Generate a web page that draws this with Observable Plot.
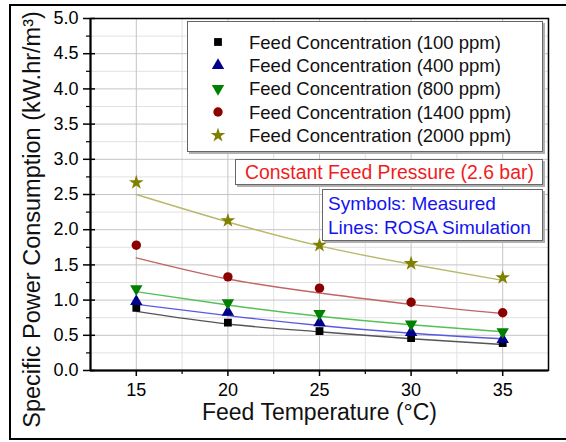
<!DOCTYPE html>
<html><head><meta charset="utf-8">
<script src="https://cdn.jsdelivr.net/npm/d3@7"></script>
<script src="https://cdn.jsdelivr.net/npm/@observablehq/plot@0.6"></script>
<style>
body{margin:0;background:#fff;font-family:"Liberation Sans",Arial,sans-serif;}
#wrap{position:relative;width:566px;height:442px;overflow:hidden;background:#fff;}
#border{position:absolute;left:9px;top:4px;width:620px;height:436px;border:2px solid #000;border-right:none;box-sizing:border-box;pointer-events:none;}
.box{position:absolute;background:#fff;border:1px solid #666;box-shadow:2px 2px 0 #b0b0b0;box-sizing:border-box;}
.box div{position:absolute;white-space:nowrap;line-height:1;}
</style>
</head><body>
<div id="wrap"><div id="border"></div></div>
<script>
// ---- data ----
const temps = [15, 20, 25, 30, 35];
const seriesNames = [
  "Feed Concentration (100 ppm)",
  "Feed Concentration (400 ppm)",
  "Feed Concentration (800 ppm)",
  "Feed Concentration (1400 ppm)",
  "Feed Concentration (2000 ppm)"
];
// measured (symbols)
const meas100  = [0.89, 0.68, 0.56, 0.46, 0.39];
const meas400  = [0.98, 0.83, 0.68, 0.54, 0.44];
const meas800  = [1.16, 0.96, 0.81, 0.66, 0.55];
const meas1400 = [1.78, 1.33, 1.17, 0.97, 0.82];
const meas2000 = [2.67, 2.13, 1.78, 1.52, 1.32];
// ROSA simulation (lines)
const sim100  = [0.84, 0.66, 0.55, 0.45, 0.37];
const sim400  = [0.94, 0.78, 0.64, 0.53, 0.45];
const sim800  = [1.12, 0.93, 0.77, 0.65, 0.55];
const sim1400 = [1.60, 1.30, 1.10, 0.94, 0.81];
const sim2000 = [2.50, 2.11, 1.77, 1.51, 1.28];

const xMajorTicks = [15, 20, 25, 30, 35];
const xMinorTicks = [17.5, 22.5, 27.5, 32.5];
const yMajorTicks = [0, 0.5, 1, 1.5, 2, 2.5, 3, 3.5, 4, 4.5, 5];
const yMinorTicks = [0.25, 0.75, 1.25, 1.75, 2.25, 2.75, 3.25, 3.75, 4.25, 4.75];

const xLabel = "Feed Temperature (°C)";
const yLabel = "Specific Power Consumption (kW.hr/m³)";
const noteRed = "Constant Feed Pressure (2.6 bar)";
const noteBlue1 = "Symbols: Measured";
const noteBlue2 = "Lines: ROSA Simulation";

// ---- styles ----
const measured = [meas100, meas400, meas800, meas1400, meas2000];
const simulated = [sim100, sim400, sim800, sim1400, sim2000];
const markerColors = ["#000000", "#00008b", "#008000", "#8b0000", "#808000"];
const lineColors = ["#555555", "#5a5ae0", "#55c055", "#c06464", "#b8b86a"];
const symbols = ["square", "triangle", "triangle", "circle", "star"];
const rotations = [0, 0, 180, 0, 0];
const radii = [4.4, 4.6, 4.6, 4.7, 4.6];

const marks = [];
marks.push(Plot.gridX(xMinorTicks, {stroke: "#e2e2e2", strokeOpacity: 1}));
marks.push(Plot.gridY(yMinorTicks, {stroke: "#e2e2e2", strokeOpacity: 1}));
marks.push(Plot.gridX(xMajorTicks, {stroke: "#c4c4c4", strokeOpacity: 1}));
marks.push(Plot.gridY(yMajorTicks, {stroke: "#c4c4c4", strokeOpacity: 1}));

simulated.forEach((s, i) => {
  marks.push(Plot.line(temps.map((t, j) => ({t, v: s[j]})), {
    x: "t", y: "v", stroke: lineColors[i], strokeWidth: 1.4, curve: "natural"
  }));
});
measured.forEach((m, i) => {
  marks.push(Plot.dot(temps.map((t, j) => ({t, v: m[j]})), {
    x: "t", y: "v", symbol: () => symbols[i], fill: markerColors[i], stroke: "none",
    r: radii[i], rotate: rotations[i]
  }));
});

marks.push(Plot.frame({stroke: "#000", strokeWidth: 1.5}));
marks.push(Plot.axisY({ticks: yMajorTicks, tickSize: 7, tickPadding: 5, fontSize: 18, tickFormat: d3.format(".1f"), label: null, strokeWidth: 1.5}));
marks.push(Plot.axisY({ticks: yMajorTicks, tickSize: -5, text: null, label: null, strokeWidth: 1.5}));
marks.push(Plot.axisY({ticks: yMinorTicks, tickSize: 4, text: null, label: null, strokeWidth: 1.2}));
marks.push(Plot.axisX({ticks: xMajorTicks, tickSize: 6, tickPadding: 7, fontSize: 18, label: null, strokeWidth: 1.5}));
marks.push(Plot.axisX({ticks: xMinorTicks, tickSize: 4, text: null, label: null, strokeWidth: 1.2}));
marks.push(Plot.ruleX([12.5], {stroke: "#000", strokeWidth: 2}));
marks.push(Plot.ruleY([0], {stroke: "#000", strokeWidth: 2}));
marks.push(Plot.text([xLabel], {text: d => d, frameAnchor: "bottom", lineAnchor: "middle", textAnchor: "middle", dy: 42, fontSize: 23, fill: "#111"}));
marks.push(Plot.text([yLabel], {text: d => d, frameAnchor: "left", lineAnchor: "middle", textAnchor: "middle", rotate: -90, dx: -58, dy: 25, fontSize: 23.5, fill: "#111"}));

const chart = Plot.plot({
  width: 566,
  height: 442,
  marginLeft: 90,
  marginRight: 18,
  marginTop: 18,
  marginBottom: 72,
  x: {domain: [12.5, 37.5]},
  y: {domain: [0, 5]},
  style: {fontFamily: "'Liberation Sans', Arial, sans-serif", color: "#000", background: "transparent"},
  marks
});
const wrap = document.getElementById("wrap");
chart.style.position = "absolute";
chart.style.left = "0px";
chart.style.top = "0px";
wrap.insertBefore(chart, wrap.firstChild);

// ---- legend box ----
const legend = d3.select(wrap).append("div").attr("class", "box")
  .style("left", "187px").style("top", "21px").style("width", "356px").style("height", "131px");
const lsvg = legend.append("svg").attr("width", 354).attr("height", 129)
  .style("position", "absolute").style("left", "0px").style("top", "0px");
const symMap = {square: d3.symbolSquare, triangle: d3.symbolTriangle, circle: d3.symbolCircle, star: d3.symbolStar};
const rowY = [20, 43.3, 66.6, 90, 113.3];
seriesNames.forEach((name, i) => {
  lsvg.append("path")
    .attr("d", d3.symbol(symMap[symbols[i]], Math.PI * radii[i] * radii[i])())
    .attr("transform", `translate(30,${rowY[i]}) rotate(${rotations[i]})`)
    .attr("fill", markerColors[i]);
  lsvg.append("text").attr("x", 61).attr("y", rowY[i]).attr("dy", "0.36em")
    .attr("font-size", 18.5).attr("fill", "#111")
    .attr("font-family", "'Liberation Sans', Arial, sans-serif")
    .text(name);
});

// ---- note boxes ----
const red = d3.select(wrap).append("div").attr("class", "box")
  .style("left", "235px").style("top", "159px").style("width", "308px").style("height", "26px");
red.append("div").style("left", "9px").style("top", "3px").style("font-size", "19.4px").style("color", "#f01c1c").text(noteRed);

const blue = d3.select(wrap).append("div").attr("class", "box")
  .style("left", "322px").style("top", "189px").style("width", "221px").style("height", "52px");
blue.append("div").style("left", "5px").style("top", "4px").style("font-size", "19px").style("color", "#1414f0").text(noteBlue1);
blue.append("div").style("left", "5px").style("top", "28px").style("font-size", "19px").style("color", "#1414f0").text(noteBlue2);
</script>
</body></html>
